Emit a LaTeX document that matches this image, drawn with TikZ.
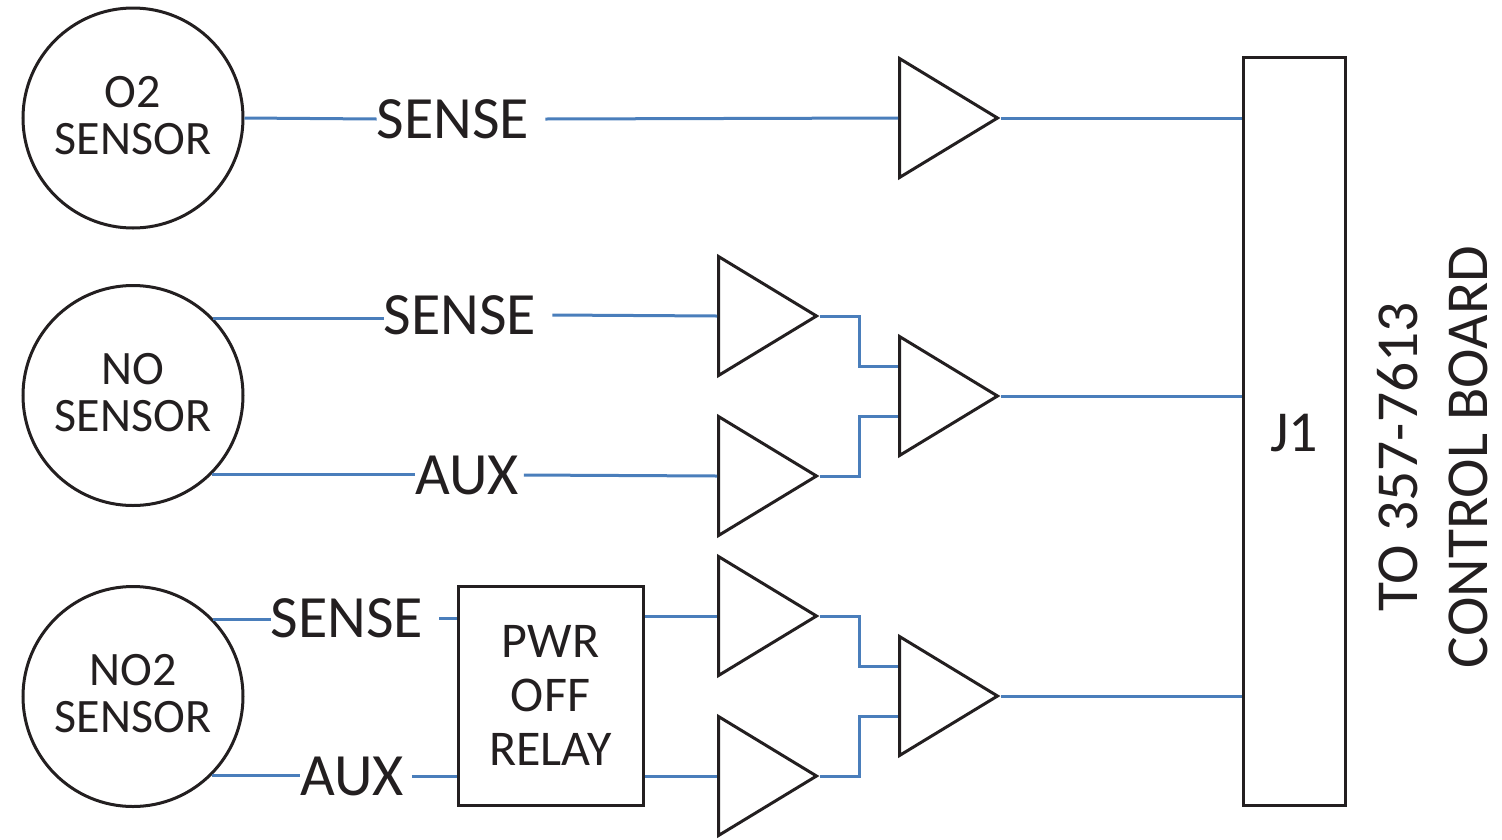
\documentclass[tikz,border=0pt]{standalone}
\usepackage{fontspec}
\setmainfont{Carlito}
\usetikzlibrary{shapes.geometric}
\definecolor{wireblue}{HTML}{4A7EBB}
\definecolor{inkline}{HTML}{231F20}
\newcommand{\nudgetext}[2]{\raisebox{#1}[\height][\depth]{#2}}
\tikzset{
  x=1pt,y=-1pt,
  outline/.style={draw=inkline,line width=3pt,line join=miter},
  sensor/.style={outline,circle,minimum size=220pt,inner sep=0pt,align=center,font=\fontsize{48}{46}\selectfont,text=inkline},
  amp/.style={outline,isosceles triangle,isosceles triangle stretches,shape border rotate=0,minimum width=119pt,minimum height=98pt,inner sep=0pt,anchor=lower side},
  box/.style={outline,rectangle,inner sep=0pt,align=center,text=inkline},
  siglabel/.style={font=\fontsize{60}{60}\selectfont,text=inkline,inner sep=0pt},
  wire/.style={draw=wireblue,line width=3pt},
}
\begin{document}
\begin{tikzpicture}
\useasboundingbox (0,0) rectangle (1502,839);
% sensors
\node[sensor] (o2) at (133,118) {\nudgetext{-3.5pt}{\begin{tabular}{@{}c@{}}O2\\[1pt]SENSOR\end{tabular}}};
\node[sensor] (no) at (133,395.5) {\nudgetext{-3.5pt}{\begin{tabular}{@{}c@{}}NO\\[1pt]SENSOR\end{tabular}}};
\node[sensor] (no2) at (133,696.5) {\nudgetext{-3.5pt}{\begin{tabular}{@{}c@{}}NO2\\[1pt]SENSOR\end{tabular}}};
% labels
\node[siglabel] (s1) at (453,119) {SENSE};
\node[siglabel] (s2) at (460,315) {SENSE};
\node[siglabel] (x2) at (467,475) {AUX};
\node[siglabel] (s3) at (347,618) {SENSE};
\node[siglabel] (x3) at (352,776) {AUX};
\node[rotate=90,align=center,font=\fontsize{59.5}{70}\selectfont,text=inkline,inner sep=0pt] (to) at (1433,457) {TO 357-7613\\CONTROL BOARD};
% anchor points on the sensor outlines
\coordinate (nos) at (no.44);
\coordinate (nox) at (no.-45);
\coordinate (no2s) at (no2.44);
\coordinate (no2x) at (no2.-45);
% amps and boxes
\node[amp] (a1) at (898,118) {};
\node[amp] (a2) at (717,316) {};
\node[amp] (a3) at (717,476) {};
\node[amp] (a4) at (898,396) {};
\node[amp] (a5) at (717,616) {};
\node[amp] (a6) at (717,776) {};
\node[amp] (a7) at (898,696) {};
\node[box,minimum width=185pt,minimum height=219pt,font=\fontsize{50}{54}\selectfont] (relay) at (550.5,696) {\nudgetext{-4.5pt}{\begin{tabular}{@{}c@{}}PWR\\OFF\\RELAY\end{tabular}}};
\node[box,minimum width=102pt,minimum height=748pt,font=\fontsize{58}{60}\selectfont] (j1) at (1294,431) {\nudgetext{-2pt}{J1}};
% wires
\draw[wire] (o2.east) -- (s1.west);
\draw[wire] ([xshift=16pt]s1.east) -- (a1.lower side);
\draw[wire] (a1.apex) -- (a1.apex -| j1.west);
\draw[wire] (nos) -- (nos -| s2.west);
\draw[wire] ([xshift=16pt]s2.east) -- (a2.lower side);
\draw[wire] (nox) -- (nox -| x2.west);
\draw[wire] ([xshift=5pt]x2.east) -- (a3.lower side);
\draw[wire] (a2.apex) -| ([xshift=39pt]a2.apex) |- ([yshift=30pt]a4.lower side);
\draw[wire] (a3.apex) -| ([xshift=39pt]a3.apex) |- ([yshift=-20pt]a4.lower side);
\draw[wire] (a4.apex) -- (a4.apex -| j1.west);
\draw[wire] (no2s) -- (no2s -| s3.west);
\draw[wire] ([xshift=16pt]s3.east) -- (s3.east -| relay.west);
\draw[wire] (no2x) -- (no2x -| x3.west);
\draw[wire] ([xshift=8pt]x3.east) -- (x3.east -| relay.west);
\draw[wire] (a5.lower side -| relay.east) -- (a5.lower side);
\draw[wire] (a6.lower side -| relay.east) -- (a6.lower side);
\draw[wire] (a5.apex) -| ([xshift=39pt]a5.apex) |- ([yshift=30pt]a7.lower side);
\draw[wire] (a6.apex) -| ([xshift=39pt]a6.apex) |- ([yshift=-20pt]a7.lower side);
\draw[wire] (a7.apex) -- (a7.apex -| j1.west);
\end{tikzpicture}
\end{document}
